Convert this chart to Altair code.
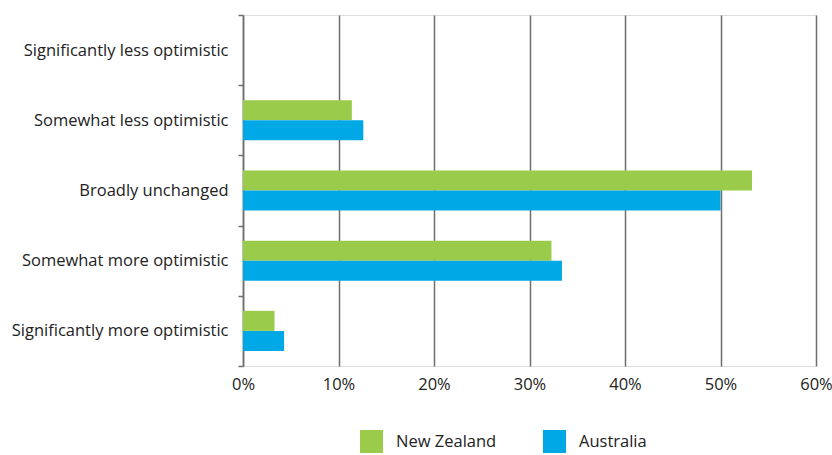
import altair as alt
import pandas as pd

categories = [
    "Significantly less optimistic",
    "Somewhat less optimistic",
    "Broadly unchanged",
    "Somewhat more optimistic",
    "Significantly more optimistic",
]
series = ["New Zealand", "Australia"]
nz_values = [0.0, 0.114, 0.533, 0.323, 0.033]
au_values = [0.0, 0.126, 0.500, 0.334, 0.043]
x_ticks = [0, 0.1, 0.2, 0.3, 0.4, 0.5, 0.6]
colors = ["#9BCB4B", "#00A9E6"]

rows = []
for c, nz, au in zip(categories, nz_values, au_values):
    rows.append({"category": c, "series": "New Zealand", "value": nz})
    rows.append({"category": c, "series": "Australia", "value": au})
df = pd.DataFrame(rows)

FONT = "Open Sans"
FS = 16.5
GRID = "#6e6e6e"

chart = alt.Chart(df).mark_bar(strokeWidth=0).encode(
    x=alt.X(
        "value:Q",
        scale=alt.Scale(domain=[0, 0.6], nice=False),
        axis=alt.Axis(
            values=x_ticks, format=".0%", title=None, domain=False, ticks=False,
            grid=True, gridColor=GRID, gridWidth=1.5, gridOpacity=1,
            labelFontSize=FS, labelColor="#222222", labelFont=FONT, labelPadding=10,
            labelFlush=False, labelOverlap=False,
        ),
    ),
    y=alt.Y(
        "category:N",
        sort=categories,
        scale=alt.Scale(paddingInner=0, paddingOuter=0),
        axis=alt.Axis(
            title=None, domain=True, domainColor=GRID, domainWidth=1.5,
            ticks=True, tickColor=GRID, tickWidth=1.5, tickSize=5, tickBand="extent",
            grid=False, labelFontSize=FS, labelColor="#222222", labelFont=FONT,
            labelPadding=10, labelLimit=0,
        ),
    ),
    yOffset=alt.YOffset(
        "series:N", sort=series,
        scale=alt.Scale(paddingInner=0, paddingOuter=0.75),
    ),
    color=alt.Color(
        "series:N",
        sort=series,
        scale=alt.Scale(domain=series, range=colors),
        legend=alt.Legend(
            title=None, orient="none", direction="horizontal",
            legendX=117, legendY=415, symbolType="square", symbolSize=529,
            symbolStrokeWidth=0, symbolOpacity=1, labelFontSize=FS, labelFont=FONT,
            labelColor="#222222", labelOffset=13, columnPadding=46, padding=0,
        ),
    ),
).properties(
    width=573,
    height=351,
    autosize=alt.AutoSizeParams(type="none"),
    padding={"left": 243, "top": 15, "right": 16, "bottom": 89},
).configure_view(stroke=None).configure(background="white")

chart.save("out.html", embed_options={"renderer": "svg", "actions": False})
